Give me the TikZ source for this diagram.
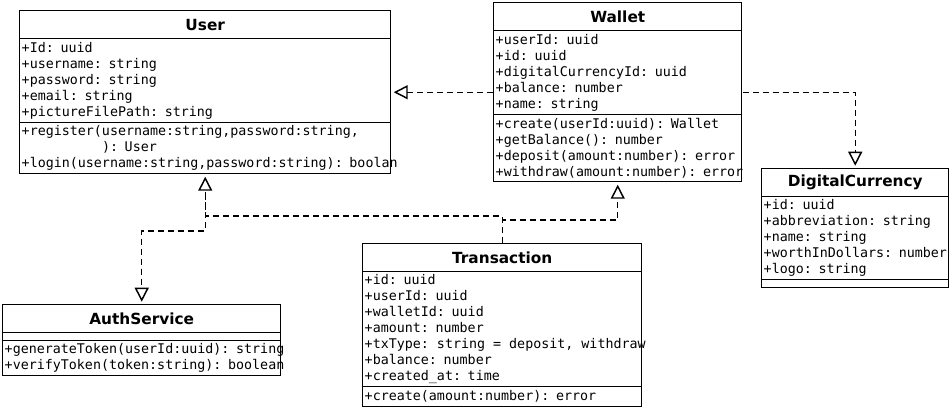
\documentclass[tikz,border=0pt]{standalone}
\usepackage{fontspec}
\usetikzlibrary{arrows.meta,fit}
\newfontfamily\umlmono{DejaVu Sans Mono}[WordSpace={1,0,0}]
\newfontfamily\umlsans{DejaVu Sans}
\newcommand\umlsp{\hphantom{0}}

\tikzset{
  classtitle/.style={draw, line width=1.1pt, anchor=north west, inner sep=0pt, minimum width=#1, minimum height=21pt, font=\umlsans\bfseries\fontsize{11.5}{13}\selectfont},
  classpart/.style={draw, line width=1.1pt, anchor=north west, inner xsep=1.5pt, inner ysep=1pt, text width=#1, align=left, font=\umlmono\fontsize{10}{12}\selectfont},
  classbox/.style={inner sep=0pt},
  realize/.style={line width=1.1pt, dash pattern=on 4.5pt off 3pt, shorten >=1.5pt, -{Triangle[open,length=10.5pt,width=10.5pt]}},
}

\begin{document}
\begin{tikzpicture}[x=0.75pt,y=0.75pt,yscale=-1,xscale=1]
\useasboundingbox (0,0) rectangle (950,408);

%Class: User
\node [classtitle=278.25pt] (user-t) at (19,10) {User};
\node [classpart=275.25pt, minimum height=63pt] (user-a) at (19,38) {+Id: uuid\\+username: string\\+password: string\\+email: string\\+pictureFilePath: string};
\node [classpart=275.25pt, minimum height=38.25pt] (user-m) at (19,122) {+register(username:string,password:string,\\\hphantom{0000000000}): User\\\mbox{+login(username:string,password:string): boolan}};
\node [classbox, fit=(user-t)(user-m)] (user) {};

%Class: Wallet
\node [classtitle=186pt] (wallet-t) at (493,2) {Wallet};
\node [classpart=183pt, minimum height=63pt] (wallet-a) at (493,30) {+userId: uuid\\+id: uuid\\+digitalCurrencyId: uuid\\+balance: number\\+name: string};
\node [classpart=183pt, minimum height=50.25pt] (wallet-m) at (493,114) {+create(userId:uuid): Wallet\\+getBalance(): number\\\mbox{+deposit(amount:number): error}\\\mbox{+withdraw(amount:number): error}};
\node [classbox, fit=(wallet-t)(wallet-m)] (wallet) {};

%Class: DigitalCurrency
\node [classtitle=140.25pt] (dcur-t) at (761,168) {DigitalCurrency};
\node [classpart=137.25pt, minimum height=62.25pt] (dcur-a) at (761,196) {+id: uuid\\+abbreviation: string\\+name: string\\\mbox{+worthInDollars: number}\\+logo: string};
\node [classpart=137.25pt, minimum height=6pt] (dcur-m) at (761,279) {};
\node [classbox, fit=(dcur-t)(dcur-m)] (dcur) {};

%Class: AuthService
\node [classtitle=208.5pt] (auth-t) at (2,304) {AuthService};
\node [classpart=205.5pt, minimum height=6pt] (auth-a) at (2,332) {};
\node [classpart=205.5pt, minimum height=26.25pt] (auth-m) at (2,340) {\mbox{+generateToken(userId:uuid): string}\\\mbox{+verifyToken(token:string): boolean}};
\node [classbox, fit=(auth-t)(auth-m)] (auth) {};

%Class: Transaction
\node [classtitle=209.25pt] (trans-t) at (362,243) {Transaction};
\node [classpart=206.25pt, minimum height=86.25pt] (trans-a) at (362,271) {+id: uuid\\+userId: uuid\\+walletId: uuid\\+amount: number\\\mbox{+txType:\umlsp string\umlsp=\umlsp deposit,\umlsp withdraw}\\+balance: number\\+created\_at: time};
\node [classpart=206.25pt, minimum height=15pt] (trans-m) at (362,386) {+create(amount:number): error};
\node [classbox, fit=(trans-t)(trans-m)] (trans) {};

%Bend levels
\coordinate (bend-auth) at (0,231);
\coordinate (bend-user) at (0,216);
\coordinate (bend-wallet) at (0,220);

%Connectors
\draw [realize] (wallet.west) -- (user.east);
\draw [realize] (wallet.east) -| (dcur.north);
\draw [realize, shorten <=13pt] (user.south) -- (user.south |- bend-auth) -| (auth.north);
\draw [realize] (trans.north) -- (trans.north |- bend-user) -| (user.south);
\draw [realize] (trans.north) -- (trans.north |- bend-wallet) -| (wallet.south);

\end{tikzpicture}
\end{document}
